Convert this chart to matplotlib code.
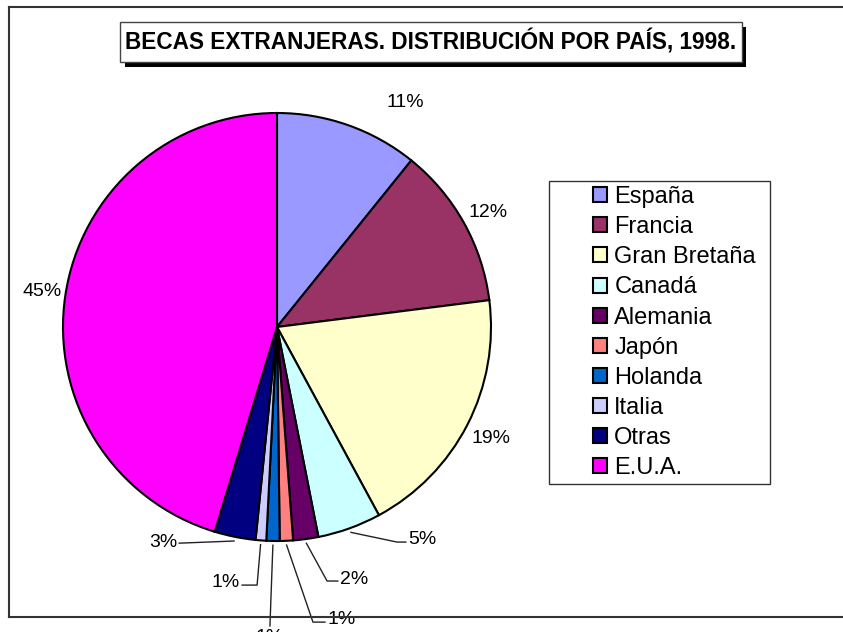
import matplotlib
matplotlib.use("Agg")
import matplotlib.pyplot as plt
from matplotlib.patches import Rectangle
from matplotlib.lines import Line2D
import numpy as np

plt.rcParams['font.family'] = ['Liberation Sans', 'DejaVu Sans']

# Datos
paises = ['España', 'Francia', 'Gran Bretaña', 'Canadá', 'Alemania',
          'Japón', 'Holanda', 'Italia', 'Otras', 'E.U.A.']
valores = [10.8, 12.2, 19.1, 4.8, 1.9, 1.0, 1.0, 0.8, 3.1, 45.3]
colores = ['#9999FF', '#993366', '#FFFFCC', '#CCFFFF', '#660066',
           '#FF8080', '#0066CC', '#CCCCFF', '#000080', '#FF00FF']
titulo = 'BECAS EXTRANJERAS. DISTRIBUCIÓN POR PAÍS, 1998.'

W, H = 843, 632


def fx(px):
    return px / W


def fy(py):
    return 1 - py / H


fig = plt.figure(figsize=(W / 100, H / 100), dpi=100)
fig.patch.set_facecolor('white')

# borde del area del grafico
fig.add_artist(Line2D([fx(9), fx(9)], [fy(7), fy(617)], color='#333333', lw=1.5))
fig.add_artist(Line2D([fx(9), 1.0], [fy(7), fy(7)], color='#333333', lw=1.5))
fig.add_artist(Line2D([fx(9), 1.0], [fy(617), fy(617)], color='#333333', lw=1.5))

# pastel: centro (277,327), radio 214 px
ax = fig.add_axes([fx(63), fy(541), 428 / W, 428 / H])
wedges, _ = ax.pie(valores, colors=colores, startangle=90, counterclock=False,
                   wedgeprops=dict(edgecolor='black', linewidth=1.5))
ax.set_xlim(-1, 1)
ax.set_ylim(-1, 1)
ax.axis('off')

etiquetas = ['%.0f%%' % v for v in valores]

# posiciones de etiquetas (coordenadas del pastel)
lab_x = [0.598, 0.986, 1.0, 0.612, 0.294, 0.234, -0.033, -0.173, -0.467, -1.098]
lab_y = [1.051, 0.537, -0.519, -0.995, -1.182, -1.369, -1.449, -1.192, -1.005, 0.164]
lab_ha = ['center', 'center', 'center', 'left', 'left', 'left', 'center',
          'right', 'right', 'center']
# lineas guia: codo (None = sin linea)
codo = [None, None, None, (0.561, -1.005), (0.234, -1.187), (0.168, -1.379),
        (-0.033, -1.397), (-0.093, -1.206), (-0.453, -1.01), None]

for w, txt, x, y, ha, c in zip(wedges, etiquetas, lab_x, lab_y, lab_ha, codo):
    ax.text(x, y, txt, ha=ha, va='center', fontsize=14, clip_on=False)
    if c is not None:
        ang = np.deg2rad((w.theta1 + w.theta2) / 2)
        x0, y0 = 1.02 * np.cos(ang), 1.02 * np.sin(ang)
        if ha == 'left':
            xs, ys = [x0, c[0], x - 0.01], [y0, c[1], c[1]]
        elif ha == 'right':
            xs, ys = [x0, c[0], x + 0.01], [y0, c[1], c[1]]
        else:
            xs, ys = [x0, c[0]], [y0, c[1]]
        ax.plot(xs, ys, color='#222222', lw=1, clip_on=False)

# titulo con sombra
fig.add_artist(Rectangle((fx(125), fy(67)), fx(746) - fx(125), fy(27) - fy(67),
                         transform=fig.transFigure, facecolor='black', edgecolor='none'))
fig.add_artist(Rectangle((fx(120), fy(62)), fx(742) - fx(120), fy(22) - fy(62),
                         transform=fig.transFigure, facecolor='white', edgecolor='#444444', lw=1))
fig.text(fx(431), fy(42), titulo, ha='center', va='center', fontsize=16.3, fontweight='bold')

# leyenda
fig.add_artist(Rectangle((fx(549), fy(484)), fx(770) - fx(549), fy(181) - fy(484),
                         transform=fig.transFigure, facecolor='white', edgecolor='#333333', lw=1))
fig.legend(wedges, paises, loc='upper left', bbox_to_anchor=(fx(593), fy(186)),
           frameon=False, fontsize=17, borderpad=0, borderaxespad=0,
           handlelength=0.6, handleheight=0.6, handletextpad=0.3, labelspacing=0.345)

fig.savefig('out.png', dpi=100)
